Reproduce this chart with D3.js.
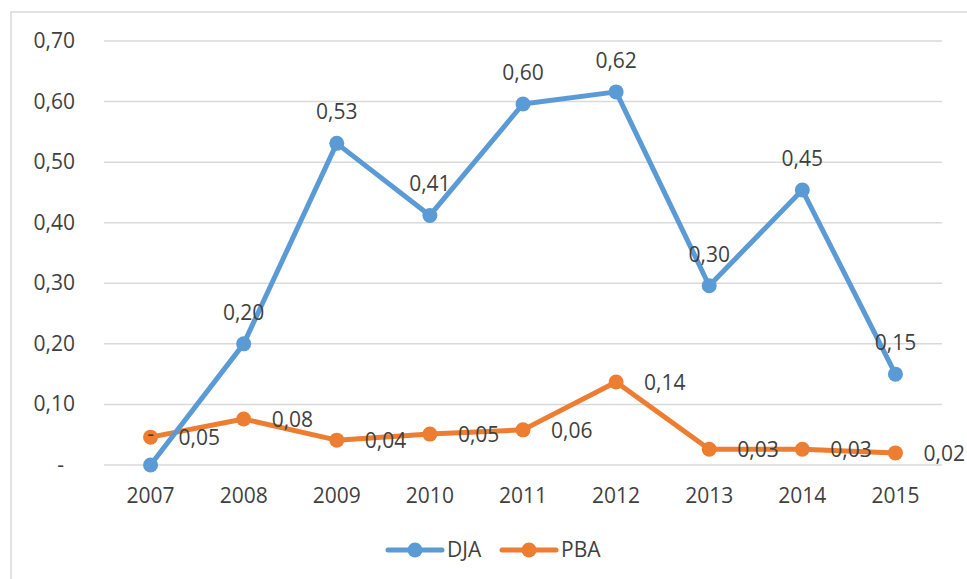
<!DOCTYPE html>
<html>
<head>
<meta charset="utf-8">
<script src="https://cdn.jsdelivr.net/npm/d3@7"></script>
<style>
  body { margin: 0; background: #fff; }
  svg { display: block; font-family: 'Open Sans', sans-serif; }
</style>
</head>
<body>
<div id="chart"></div>
<script>
const years = ['2007', '2008', '2009', '2010', '2011', '2012', '2013', '2014', '2015'];
const dja = [0, 0.20, 0.531, 0.412, 0.596, 0.616, 0.296, 0.454, 0.150];
const pba = [0.046, 0.076, 0.041, 0.051, 0.058, 0.137, 0.026, 0.026, 0.020];
const yTicks = [0, 0.1, 0.2, 0.3, 0.4, 0.5, 0.6, 0.7];
const seriesNames = ['DJA', 'PBA'];

const width = 967, height = 579;
const textColor = '#3f3f3f';
const gridColor = '#d9d9d9';
const colors = { DJA: '#5b9bd5', PBA: '#ed7d31' };
const fontSize = 21;

const svg = d3.select('#chart').append('svg')
  .attr('width', width)
  .attr('height', height);

svg.append('rect').attr('width', width).attr('height', height).attr('fill', '#fff');

// chart frame (runs off the right and bottom of the picture)
svg.append('rect')
  .attr('x', 11).attr('y', 12)
  .attr('width', 1000).attr('height', 700)
  .attr('fill', 'none')
  .attr('stroke', gridColor)
  .attr('stroke-width', 1.5);

const x = d3.scalePoint().domain(years).range([104, 942]).padding(0.5);
const y = d3.scaleLinear().domain([0, 0.7]).range([465, 41]);

const fmt = v => v === 0 ? '-' : d3.format('.2f')(v).replace('.', ',');

// gridlines
svg.append('g')
  .selectAll('line')
  .data(yTicks)
  .enter().append('line')
  .attr('x1', 104).attr('x2', 942)
  .attr('y1', d => y(d)).attr('y2', d => y(d))
  .attr('stroke', gridColor)
  .attr('stroke-width', 1.5);

// y labels
svg.append('g')
  .selectAll('text')
  .data(yTicks)
  .enter().append('text')
  .attr('x', d => d === 0 ? 64 : 75)
  .attr('y', d => y(d) + 7)
  .attr('text-anchor', 'end')
  .attr('font-size', fontSize)
  .attr('fill', textColor)
  .text(d => fmt(d));

// x labels
svg.append('g')
  .selectAll('text')
  .data(years)
  .enter().append('text')
  .attr('x', d => x(d))
  .attr('y', 503)
  .attr('text-anchor', 'middle')
  .attr('font-size', fontSize)
  .attr('fill', textColor)
  .text(d => d);

const line = d3.line()
  .x(d => x(d.year))
  .y(d => y(d.value));

const series = [
  { name: 'PBA', values: years.map((yr, i) => ({ year: yr, value: pba[i] })) },
  { name: 'DJA', values: years.map((yr, i) => ({ year: yr, value: dja[i] })) }
];

series.forEach(s => {
  svg.append('path')
    .datum(s.values)
    .attr('d', line)
    .attr('fill', 'none')
    .attr('stroke', colors[s.name])
    .attr('stroke-width', 5)
    .attr('stroke-linejoin', 'round');

  svg.append('g')
    .selectAll('circle')
    .data(s.values)
    .enter().append('circle')
    .attr('cx', d => x(d.year))
    .attr('cy', d => y(d.value))
    .attr('r', 7.5)
    .attr('fill', colors[s.name]);
});

// data labels
const djaVals = series.find(s => s.name === 'DJA').values;
const pbaVals = series.find(s => s.name === 'PBA').values;

svg.append('g')
  .selectAll('text')
  .data(djaVals)
  .enter().append('text')
  .attr('x', d => x(d.year))
  .attr('y', d => y(d.value) - 24)
  .attr('text-anchor', 'middle')
  .attr('font-size', fontSize)
  .attr('fill', textColor)
  .text(d => fmt(d.value));

svg.append('g')
  .selectAll('text')
  .data(pbaVals)
  .enter().append('text')
  .attr('x', d => x(d.year) + 28)
  .attr('y', d => y(d.value) + 8)
  .attr('text-anchor', 'start')
  .attr('font-size', fontSize)
  .attr('fill', textColor)
  .text(d => fmt(d.value));

// legend
const legendItems = [
  { name: 'DJA', x0: 388 },
  { name: 'PBA', x0: 502 }
];
const legend = svg.append('g')
  .selectAll('g')
  .data(legendItems)
  .enter().append('g')
  .attr('transform', d => `translate(${d.x0},550)`);

legend.append('line')
  .attr('x1', 0).attr('x2', 54)
  .attr('y1', 0).attr('y2', 0)
  .attr('stroke', d => colors[d.name])
  .attr('stroke-width', 5)
  .attr('stroke-linecap', 'round');

legend.append('circle')
  .attr('cx', 27).attr('cy', 0)
  .attr('r', 7.5)
  .attr('fill', d => colors[d.name]);

legend.append('text')
  .attr('x', 59)
  .attr('y', 7)
  .attr('font-size', fontSize)
  .attr('fill', textColor)
  .text(d => d.name);
</script>
</body>
</html>
